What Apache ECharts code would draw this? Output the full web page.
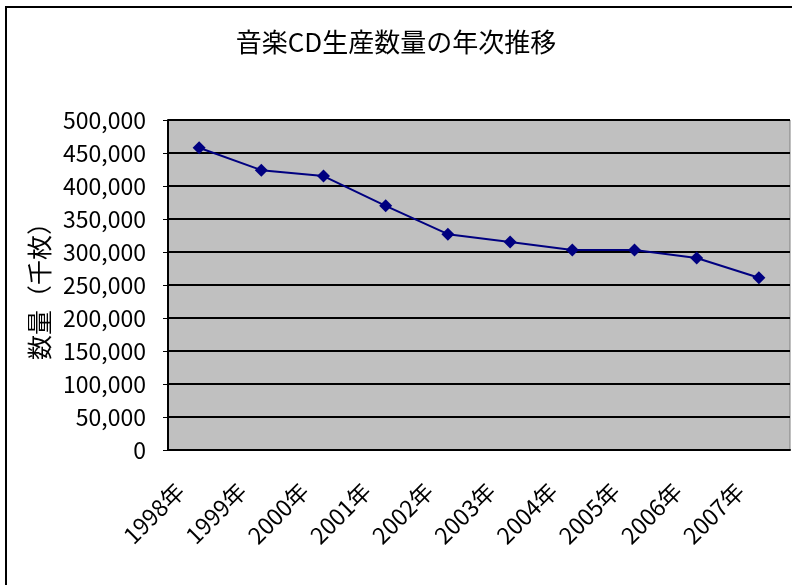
<!DOCTYPE html>
<html><head><meta charset="utf-8">
<script src="https://cdn.jsdelivr.net/npm/echarts@6/dist/echarts.min.js"></script>
<style>html,body{margin:0;padding:0;background:#fff}#c{width:792px;height:585px}</style>
</head><body><div id="c"></div>
<script>
const categories = ['1998年','1999年','2000年','2001年','2002年','2003年','2004年','2005年','2006年','2007年'];
const values = [458000, 424000, 415000, 370000, 327000, 315000, 303000, 303000, 291000, 261000];
const yTicks = [0, 50000, 100000, 150000, 200000, 250000, 300000, 350000, 400000, 450000, 500000];
const titleText = '音楽CD生産数量の年次推移';
const yName = '数量（千枚）';

const chart = echarts.init(document.getElementById('c'), null, {renderer:'canvas'});
const cjk = '"Noto Sans CJK JP", sans-serif';
chart.setOption({
  animation:false,
  backgroundColor:'#fff',
  graphic:[{type:'rect', shape:{x:6,y:7,width:900,height:700}, style:{fill:null, stroke:'#000', lineWidth:2}, z:-1}],
  title:{text:titleText, left:'center', top:24, textStyle:{fontFamily:cjk, fontSize:26, fontWeight:'normal', color:'#000'}},
  grid:{left:168, right:2, top:120, bottom:135, show:true, backgroundColor:'#c0c0c0', borderColor:'#808080', borderWidth:1},
  xAxis:{type:'category', data:categories, boundaryGap:true,
    axisLine:{lineStyle:{color:'#000', width:2}},
    axisTick:{inside:true, length:8, lineStyle:{color:'#000', width:1.5}},
    axisLabel:{rotate:45, margin:18, padding:[0,27,0,0], fontSize:23, color:'#000', fontFamily:cjk, interval:0}},
  yAxis:{type:'value', min:0, max:500000, interval:50000,
    name:yName, nameLocation:'middle', nameGap:115, nameRotate:90,
    nameTextStyle:{fontSize:25, color:'#000', fontFamily:cjk},
    axisLine:{show:true, lineStyle:{color:'#000', width:2}},
    axisTick:{show:true, length:5, lineStyle:{color:'#000'}},
    splitLine:{lineStyle:{color:'#000', width:2}},
    axisLabel:{fontSize:23, color:'#000', fontFamily:cjk, margin:22,
      formatter:v=> yTicks.includes(v) ? v.toLocaleString('en-US') : ''}},
  series:[{type:'line', data:values, symbol:'diamond', symbolSize:13,
    lineStyle:{color:'#000080', width:2}, itemStyle:{color:'#000080'}}]
});
</script></body></html>
